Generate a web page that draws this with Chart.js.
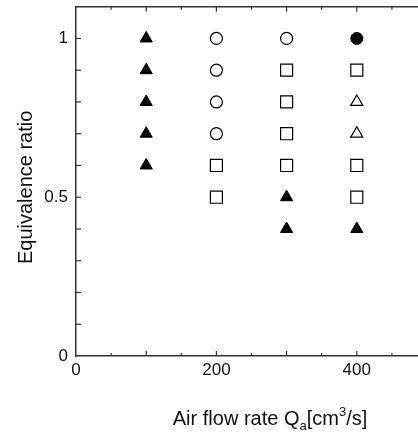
<!DOCTYPE html>
<html>
<head>
<meta charset="utf-8">
<script src="https://cdn.jsdelivr.net/npm/chart.js@4/dist/chart.umd.min.js"></script>
<style>
  html, body { margin: 0; padding: 0; background: #fff; overflow: hidden; }
  canvas { display: block; margin-top: -3px; }
</style>
</head>
<body>
<canvas id="c" width="440" height="437"></canvas>
<script>
// Flame regimes mapped over air flow rate and equivalence ratio
const solidTriangleX = [100, 100, 100, 100, 100, 300, 300, 400];
const solidTriangleY = [0.6, 0.7, 0.8, 0.9, 1.0, 0.4, 0.5, 0.4];

const openCircleX = [200, 200, 200, 200, 300];
const openCircleY = [0.7, 0.8, 0.9, 1.0, 1.0];

const openSquareX = [200, 200, 300, 300, 300, 300, 400, 400, 400];
const openSquareY = [0.5, 0.6, 0.6, 0.7, 0.8, 0.9, 0.5, 0.6, 0.9];

const openTriangleX = [400, 400];
const openTriangleY = [0.7, 0.8];

const solidCircleX = [400];
const solidCircleY = [1.0];

const xTickLabels = [0, 200, 400];
const yTickLabels = [0, 0.5, 1];

const xTitleParts = [
  { text: 'Air flow rate Q', kind: 'normal' },
  { text: 'a', kind: 'sub' },
  { text: '[cm', kind: 'normal' },
  { text: '3', kind: 'sup' },
  { text: '/s]', kind: 'normal' }
];
const yTitle = 'Equivalence ratio';

const FONT = "'Liberation Sans', Arial, Helvetica, sans-serif";
const INK = '#111';
const AXIS = '#333';

function pts(xs, ys) { return xs.map((x, i) => ({ x: x, y: ys[i] })); }

function series(label, xs, ys, style, filled, r) {
  return {
    label: label,
    data: pts(xs, ys),
    pointStyle: style,
    pointRadius: r,
    pointHoverRadius: r,
    pointBackgroundColor: filled ? '#000' : '#fff',
    pointBorderColor: '#000',
    pointBorderWidth: filled ? 1 : 1.2,
    showLine: false
  };
}

// inward tick marks on all visible frame edges, plus the top frame line
const frameTicks = {
  id: 'frameTicks',
  afterDraw(chart) {
    const { ctx, chartArea: a, scales: { x, y } } = chart;
    ctx.save();
    ctx.strokeStyle = AXIS;
    ctx.lineWidth = 1.5;
    ctx.beginPath();
    ctx.moveTo(a.left, a.top);
    ctx.lineTo(a.right, a.top);
    ctx.stroke();
    ctx.lineWidth = 1.2;
    for (let v = 50; v <= 500; v += 50) {
      const px = x.getPixelForValue(v);
      const len = v % 100 === 0 ? 5 : 3;
      ctx.beginPath();
      ctx.moveTo(px, a.bottom);
      ctx.lineTo(px, a.bottom - len);
      ctx.moveTo(px, a.top);
      ctx.lineTo(px, a.top + len);
      ctx.stroke();
    }
    for (let k = 1; k <= 10; k++) {
      const py = y.getPixelForValue(k / 10);
      ctx.beginPath();
      ctx.moveTo(a.left, py);
      ctx.lineTo(a.left + 5, py);
      ctx.stroke();
    }
    ctx.restore();
  }
};

// axis titles, with the sub- and superscript in the flow-rate unit
const axisTitles = {
  id: 'axisTitles',
  afterDraw(chart) {
    const ctx = chart.ctx;
    const a = chart.chartArea;
    ctx.save();
    ctx.fillStyle = INK;
    ctx.textBaseline = 'alphabetic';
    const big = '20px ' + FONT;
    const small = '13px ' + FONT;
    let total = 0;
    xTitleParts.forEach(p => {
      ctx.font = p.kind === 'normal' ? big : small;
      total += ctx.measureText(p.text).width;
    });
    let cx = a.left + 194 - total / 2;
    const base = a.bottom + 69;
    xTitleParts.forEach(p => {
      ctx.font = p.kind === 'normal' ? big : small;
      const dy = p.kind === 'sub' ? 5 : (p.kind === 'sup' ? -9 : 0);
      ctx.textAlign = 'left';
      ctx.fillText(p.text, cx, base + dy);
      cx += ctx.measureText(p.text).width;
    });
    ctx.translate(a.left - 44, (a.top + a.bottom) / 2 + 6);
    ctx.rotate(-Math.PI / 2);
    ctx.font = big;
    ctx.textAlign = 'center';
    ctx.fillText(yTitle, 0, 0);
    ctx.restore();
  }
};

function noLabelPadding(s) {
  s.paddingTop = 0;
  s.paddingBottom = 0;
  s.paddingLeft = 0;
  s.paddingRight = 0;
}

new Chart(document.getElementById('c'), {
  type: 'scatter',
  data: {
    datasets: [
      series('solid triangle', solidTriangleX, solidTriangleY, 'triangle', true, 7),
      series('open circle', openCircleX, openCircleY, 'circle', false, 6),
      series('open square', openSquareX, openSquareY, 'rect', false, 8.5),
      series('open triangle', openTriangleX, openTriangleY, 'triangle', false, 7),
      series('solid circle', solidCircleX, solidCircleY, 'circle', true, 6)
    ]
  },
  options: {
    responsive: false,
    animation: false,
    events: [],
    layout: { padding: { top: 2, right: 13, left: 0, bottom: 0 } },
    plugins: { legend: { display: false }, tooltip: { enabled: false } },
    scales: {
      x: {
        type: 'linear',
        min: 0,
        max: 500,
        afterFit(s) { s.height = 78; noLabelPadding(s); },
        afterBuildTicks(s) { s.ticks = xTickLabels.map(v => ({ value: v })); },
        grid: { display: false, drawTicks: false },
        border: { display: true, color: AXIS, width: 1.5 },
        ticks: {
          autoSkip: false,
          maxRotation: 0,
          padding: 4,
          color: INK,
          font: { family: FONT, size: 17 },
          callback: v => String(v)
        }
      },
      y: {
        type: 'linear',
        min: 0,
        max: 1.1,
        afterFit(s) { s.width = 76; noLabelPadding(s); },
        afterBuildTicks(s) { s.ticks = yTickLabels.map(v => ({ value: v })); },
        grid: { display: false, drawTicks: false },
        border: { display: true, color: AXIS, width: 1.5 },
        ticks: {
          autoSkip: false,
          padding: 8,
          color: INK,
          font: { family: FONT, size: 17 },
          callback: v => String(v)
        }
      }
    }
  },
  plugins: [frameTicks, axisTitles]
});
</script>
</body>
</html>
